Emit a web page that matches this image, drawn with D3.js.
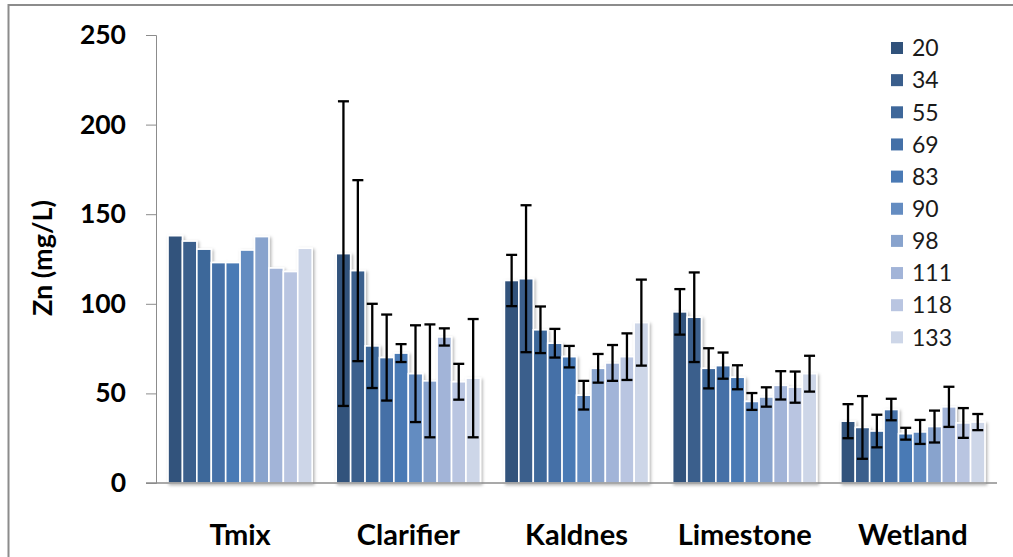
<!DOCTYPE html>
<html>
<head>
<meta charset="utf-8">
<script src="https://cdn.jsdelivr.net/npm/d3@7"></script>
<style>
  html, body { margin: 0; padding: 0; background: #fff; }
  svg { display: block; font-family: Lato, "Open Sans", "Liberation Sans", sans-serif; }
</style>
</head>
<body>
<svg id="chart" width="1013" height="557"></svg>
<script>
// Sites along the treatment train
const categories = ["Tmix", "Clarifier", "Kaldnes", "Limestone", "Wetland"];
// Sampling days (legend entries)
const series = ["20", "34", "55", "69", "83", "90", "98", "111", "118", "133"];
const seriesColors = ["#31527b", "#3a5e8c", "#3e679a", "#4470a7", "#4a7ab5",
                      "#648cc1", "#88a3cd", "#a2b4d8", "#b9c5e1", "#cdd6e8"];
const yTicks = [0, 50, 100, 150, 200, 250];

// Mean Zn (mg/L) per site, one value per sampling day
const tmix      = [138, 135, 130.5, 123, 123, 130, 137.5, 120, 118, 131];
const clarifier = [128, 118.5, 76.5, 70, 72.5, 61, 57, 81.5, 56.5, 58.5];
const kaldnes   = [113, 114, 85.5, 78, 70.5, 49, 64, 67, 70.5, 89.5];
const limestone = [95.5, 92.5, 64, 65.5, 59, 45.5, 48, 54.5, 53.5, 61];
const wetland   = [34.5, 31, 29, 41, 27.5, 28.5, 31.5, 42.5, 33.5, 34];

// Standard deviations (Tmix has none)
const tmixErr      = [null, null, null, null, null, null, null, null, null, null];
const clarifierErr = [85, 50.5, 23.5, 24, 5, 27, 31.5, 4.8, 10, 33];
const kaldnesErr   = [14.3, 41, 13, 8, 6, 8, 8, 10, 13, 24];
const limestoneErr = [12.7, 25, 11.2, 7.3, 6.7, 4.7, 5.4, 7.9, 8.7, 10];
const wetlandErr   = [9.5, 17.5, 9.1, 6, 3.3, 6.7, 8.9, 11.2, 8.3, 4.5];

const means = [tmix, clarifier, kaldnes, limestone, wetland];
const errs  = [tmixErr, clarifierErr, kaldnesErr, limestoneErr, wetlandErr];

const svg = d3.select("#chart");

// outer frame
svg.append("rect")
  .attr("x", 8.5).attr("y", 5).attr("width", 1100).attr("height", 700)
  .attr("fill", "none").attr("stroke", "#8c8c8c").attr("stroke-width", 2);

const plot = { left: 156, right: 997, top: 35, bottom: 483 };

const x = d3.scaleBand().domain(categories)
  .range([plot.left, plot.right]).paddingInner(0.143).paddingOuter(0.0715);
const xs = d3.scaleBand().domain(series).range([0, x.bandwidth()]).padding(0);
const y = d3.scaleLinear().domain([0, 250]).range([plot.bottom, plot.top]);
const color = d3.scaleOrdinal().domain(series).range(seriesColors);

// soft shadow behind each cluster of bars
const defs = svg.append("defs");
const f = defs.append("filter").attr("id", "shadow")
  .attr("x", "-10%").attr("y", "-10%").attr("width", "130%").attr("height", "130%");
f.append("feDropShadow").attr("dx", 1.5).attr("dy", 1.5)
  .attr("stdDeviation", 1.6).attr("flood-color", "#000").attr("flood-opacity", 0.3);

// y axis
const yAxis = svg.append("g")
  .attr("transform", `translate(${plot.left},0)`)
  .call(d3.axisLeft(y).tickValues(yTicks).tickSize(10).tickPadding(20));
yAxis.select(".domain").attr("stroke", "#8c8c8c");
yAxis.selectAll(".tick line").attr("stroke", "#8c8c8c");
yAxis.selectAll(".tick text")
  .attr("font-family", "Lato, 'Open Sans', sans-serif")
  .attr("font-size", 26.5).attr("font-weight", 700).attr("fill", "#000");

// bars
const groups = svg.append("g").selectAll("g.cat")
  .data(categories.map((c, i) => ({ cat: c, vals: means[i], errs: errs[i] })))
  .join("g").attr("class", "cat")
  .attr("transform", d => `translate(${x(d.cat)},0)`);

groups.append("g").attr("filter", "url(#shadow)")
  .selectAll("rect")
  .data(d => d.vals.map((v, j) => ({ s: series[j], v })))
  .join("rect")
  .attr("x", d => xs(d.s))
  .attr("y", d => y(d.v))
  .attr("width", xs.bandwidth())
  .attr("height", d => y(0) - y(d.v))
  .attr("fill", d => color(d.s))
  .attr("stroke", "#fff").attr("stroke-width", 1.6);

// error bars
const eb = groups.append("g")
  .selectAll("g.err")
  .data(d => d.vals.map((v, j) => ({ s: series[j], v, e: d.errs[j] })).filter(d => d.e != null))
  .join("g").attr("class", "err")
  .attr("stroke", "#000").attr("stroke-width", 2.3);
const cx = d => xs(d.s) + xs.bandwidth() / 2;
eb.append("line")
  .attr("x1", cx).attr("x2", cx)
  .attr("y1", d => y(d.v + d.e)).attr("y2", d => y(d.v - d.e));
eb.append("line")
  .attr("x1", d => cx(d) - 5.5).attr("x2", d => cx(d) + 5.5)
  .attr("y1", d => y(d.v + d.e)).attr("y2", d => y(d.v + d.e));
eb.append("line")
  .attr("x1", d => cx(d) - 5.5).attr("x2", d => cx(d) + 5.5)
  .attr("y1", d => y(d.v - d.e)).attr("y2", d => y(d.v - d.e));

// category axis
svg.append("line")
  .attr("x1", plot.left - 10).attr("x2", plot.right)
  .attr("y1", y(0)).attr("y2", y(0))
  .attr("stroke", "#8c8c8c").attr("stroke-width", 1.5);

svg.append("g").selectAll("text")
  .data(categories).join("text")
  .attr("x", d => x(d) + x.bandwidth() / 2)
  .attr("y", 545)
  .attr("text-anchor", "middle")
  .attr("font-size", 29).attr("font-weight", 700).attr("fill", "#000")
  .text(d => d);

// y axis title
svg.append("text")
  .attr("transform", "translate(52,258) rotate(-90)")
  .attr("text-anchor", "middle")
  .attr("font-size", 27).attr("font-weight", 700).attr("fill", "#000")
  .text("Zn (mg/L)");

// legend
const legend = svg.append("g").selectAll("g")
  .data(series).join("g")
  .attr("transform", (d, i) => `translate(891,${48 + i * 32.15})`);
legend.append("rect")
  .attr("x", 0).attr("y", -6).attr("width", 12).attr("height", 12)
  .attr("fill", d => color(d));
legend.append("text")
  .attr("x", 21).attr("y", 0).attr("dy", "0.36em")
  .attr("font-size", 23).attr("fill", "#1a1a1a")
  .text(d => d);
</script>
</body>
</html>
